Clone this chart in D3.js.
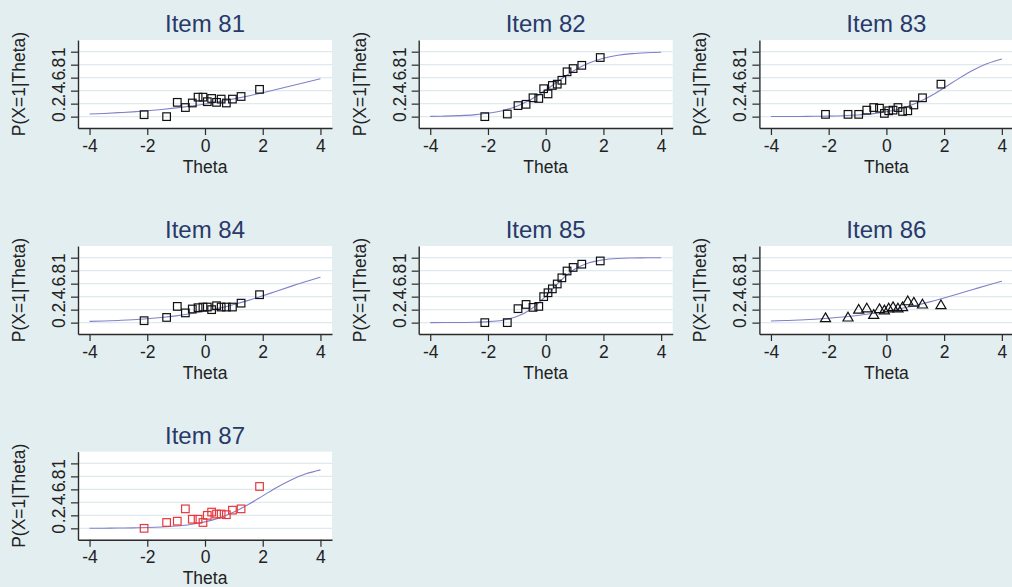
<!DOCTYPE html>
<html><head><meta charset="utf-8">
<script src="https://cdn.jsdelivr.net/npm/d3@7"></script>
<style>
html,body{margin:0;padding:0;background:#e3eef1;}
svg{display:block;}
text{font-family:"Liberation Sans",Arial,Helvetica,sans-serif;}
</style>
</head><body>
<script>
// ---- data ----
const itemTitles = ["Item 81","Item 82","Item 83","Item 84","Item 85","Item 86","Item 87"];
const xTicks = [-4,-2,0,2,4];
const yTicks = [0,0.2,0.4,0.6,0.8,1];
const yTickLabels = ["0",".2",".4",".6",".8","1"];
const xAxisTitle = "Theta";
const yAxisTitle = "P(X=1|Theta)";

// theta group means (observed points)
const thetaObs = [-2.11,-1.33,-0.96,-0.68,-0.44,-0.24,-0.07,0.08,0.23,0.40,0.56,0.74,0.95,1.25,1.89];
const obs81 = [0.03,0.00,0.22,0.14,0.21,0.30,0.30,0.23,0.28,0.22,0.27,0.21,0.27,0.31,0.42];
const obs82 = [0.00,0.04,0.17,0.19,0.29,0.28,0.43,0.35,0.48,0.50,0.56,0.69,0.74,0.79,0.91];
const obs83 = [0.035,0.035,0.035,0.10,0.14,0.13,0.05,0.09,0.10,0.14,0.08,0.09,0.18,0.29,0.50];
const obs84 = [0.03,0.08,0.25,0.15,0.21,0.23,0.24,0.24,0.20,0.26,0.24,0.24,0.24,0.30,0.43];
const obs85 = [0.00,0.00,0.215,0.28,0.235,0.25,0.40,0.46,0.52,0.595,0.69,0.795,0.85,0.90,0.95];
const obs86 = [0.06,0.07,0.19,0.21,0.11,0.20,0.18,0.21,0.23,0.21,0.23,0.32,0.30,0.27,0.26];
const obs87 = [0.00,0.09,0.11,0.30,0.14,0.14,0.09,0.20,0.25,0.22,0.22,0.21,0.28,0.30,0.645];

// item characteristic curves read at theta = -4 .. 4 step 0.5
const thetaCurve = [-4,-3.5,-3,-2.5,-2,-1.5,-1,-0.5,0,0.5,1,1.5,2,2.5,3,3.5,4];
const icc81 = [0.040,0.049,0.061,0.074,0.091,0.111,0.135,0.162,0.195,0.231,0.273,0.319,0.368,0.421,0.475,0.530,0.584];
const icc82 = [0.004,0.008,0.015,0.027,0.051,0.092,0.161,0.267,0.409,0.567,0.713,0.825,0.899,0.944,0.970,0.984,0.991];
const icc83 = [0.001,0.001,0.003,0.005,0.008,0.014,0.025,0.043,0.074,0.124,0.201,0.309,0.443,0.585,0.715,0.817,0.888];
const icc84 = [0.019,0.025,0.034,0.045,0.060,0.079,0.104,0.136,0.175,0.223,0.279,0.343,0.413,0.488,0.562,0.634,0.701];
const icc85 = [0.000,0.001,0.002,0.006,0.015,0.038,0.093,0.209,0.406,0.639,0.821,0.922,0.968,0.988,0.995,0.998,0.999];
const icc86 = [0.025,0.032,0.041,0.053,0.068,0.087,0.111,0.140,0.175,0.217,0.265,0.320,0.380,0.444,0.510,0.576,0.639];
const icc87 = [0.001,0.002,0.004,0.007,0.012,0.021,0.036,0.060,0.100,0.161,0.250,0.366,0.500,0.634,0.750,0.839,0.900];

const markerTypes = ["square","square","square","square","square","triangle","square"];
const markerColors = ["#111","#111","#111","#111","#111","#111","#e8383c"];

const obsSeries = [obs81,obs82,obs83,obs84,obs85,obs86,obs87];
const iccSeries = [icc81,icc82,icc83,icc84,icc85,icc86,icc87];

// ---- layout ----
const W = 1012, H = 587;
const pw = 254, ph = 88;
const colLeft = [78, 418.7, 759.4];
const rowTop = [40, 246, 451.7];

const svg = d3.select("body").append("svg").attr("width", W).attr("height", H);
svg.append("rect").attr("width", W).attr("height", H).attr("fill", "#e3eef1");

const x = d3.scaleLinear().domain([-4.4, 4.4]).range([0, pw]);
const y = d3.scaleLinear().domain([-0.175, 1.18]).range([ph, 0]);

const fs = 17.5;
const line = d3.line().x(d => x(d[0])).y(d => y(d[1])).curve(d3.curveMonotoneX);

itemTitles.forEach((title, i) => {
  const L = colLeft[i % 3], T = rowTop[Math.floor(i / 3)];
  const g = svg.append("g").attr("transform", `translate(${L},${T})`);

  g.append("rect").attr("width", pw).attr("height", ph).attr("fill", "#ffffff");

  // grid
  g.selectAll("line.grid").data(yTicks).join("line")
    .attr("class", "grid")
    .attr("x1", 0).attr("x2", pw)
    .attr("y1", d => y(d)).attr("y2", d => y(d))
    .attr("stroke", "#e0eaee").attr("stroke-width", 1.3);

  // curve
  g.append("path")
    .attr("d", line(thetaCurve.map((t, k) => [t, iccSeries[i][k]])))
    .attr("fill", "none").attr("stroke", "#8181c9").attr("stroke-width", 1.1);

  // observed points
  const pts = thetaObs.map((t, k) => [t, obsSeries[i][k]]);
  if (markerTypes[i] === "triangle") {
    const sym = d3.symbol().type(d3.symbolTriangle).size(44);
    g.selectAll("path.pt").data(pts).join("path")
      .attr("class", "pt")
      .attr("d", sym)
      .attr("transform", d => `translate(${x(d[0])},${y(d[1])})`)
      .attr("fill", "none").attr("stroke", markerColors[i]).attr("stroke-width", 1.2);
  } else {
    const s = 7.6;
    g.selectAll("rect.pt").data(pts).join("rect")
      .attr("class", "pt")
      .attr("x", d => x(d[0]) - s / 2).attr("y", d => y(d[1]) - s / 2)
      .attr("width", s).attr("height", s)
      .attr("fill", "none").attr("stroke", markerColors[i]).attr("stroke-width", 1.2);
  }

  // x axis
  const gx = g.append("g").attr("transform", `translate(0,${ph})`)
    .call(d3.axisBottom(x).tickValues(xTicks).tickSize(7).tickSizeOuter(0).tickFormat(d3.format("d")));
  gx.select(".domain").attr("stroke", "#2a2a2a").attr("stroke-width", 1.4);
  gx.selectAll(".tick line").attr("stroke", "#2a2a2a").attr("stroke-width", 1.2);
  gx.selectAll(".tick text").attr("y", 23.7).attr("dy", 0)
    .attr("font-size", fs).attr("fill", "#222")
    .style("font-family", '"Liberation Sans",Arial,sans-serif')
    .text(d => d < 0 ? "-" + Math.abs(d) : String(d));

  // y axis
  const gy = g.append("g")
    .call(d3.axisLeft(y).tickValues(yTicks).tickSize(7).tickSizeOuter(0)
      .tickFormat((d, k) => yTickLabels[k]));
  gy.select(".domain").attr("stroke", "#2a2a2a").attr("stroke-width", 1.4);
  gy.selectAll(".tick line").attr("stroke", "#2a2a2a").attr("stroke-width", 1.2);
  gy.selectAll(".tick text").attr("x", 0).attr("y", 0).attr("dy", 0)
    .attr("text-anchor", "middle")
    .attr("transform", "translate(-13,0) rotate(-90)")
    .attr("font-size", fs).attr("fill", "#222")
    .style("font-family", '"Liberation Sans",Arial,sans-serif');

  // titles
  g.append("text").attr("x", pw / 2).attr("y", -8).attr("text-anchor", "middle")
    .attr("font-size", 24).attr("fill", "#28396a").text(title);
  g.append("text").attr("x", pw / 2).attr("y", 132.7).attr("text-anchor", "middle")
    .attr("font-size", fs).attr("fill", "#222").text(xAxisTitle);
  g.append("text").attr("transform", `translate(-53,${ph / 2}) rotate(-90)`)
    .attr("text-anchor", "middle").attr("font-size", fs).attr("fill", "#222").text(yAxisTitle);
});
</script>
</body></html>
